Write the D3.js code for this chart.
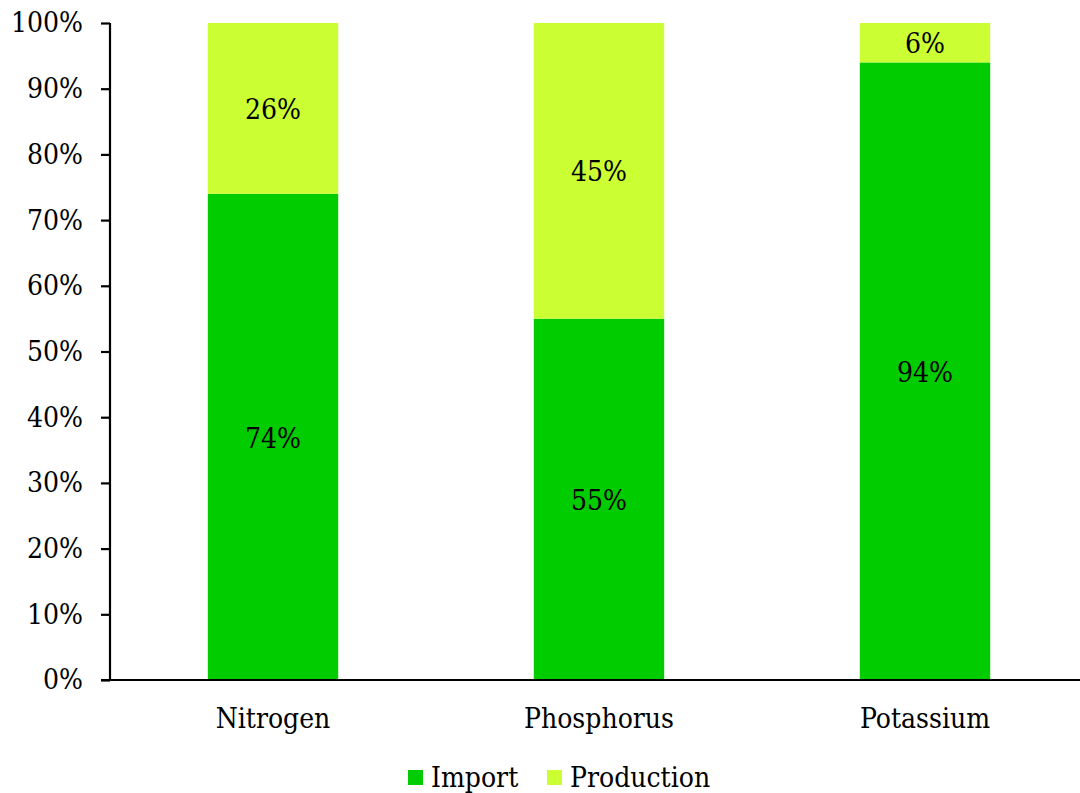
<!DOCTYPE html>
<html>
<head>
<meta charset="utf-8">
<script src="https://cdn.jsdelivr.net/npm/d3@7"></script>
<style>
  html, body { margin: 0; padding: 0; background: #fff; }
  svg { display: block; }
  svg text { font-family: "DejaVu Serif Condensed", "DejaVu Serif", serif; font-stretch: condensed; }
</style>
</head>
<body>
<svg id="chart" width="1080" height="793"></svg>
<script>
// Share of fertilizer supply by nutrient
const categories = ["Nitrogen", "Phosphorus", "Potassium"];
const seriesNames = ["Import", "Production"];
const importValues = [74, 55, 94];
const productionValues = [26, 45, 6];
const yTicks = [0, 10, 20, 30, 40, 50, 60, 70, 80, 90, 100];
const colors = { Import: "#00CC00", Production: "#CCFF33" };
const fontSize = "28px";

const svg = d3.select("#chart");
const plotLeft = 110, plotRight = 1088, plotTop = 23, plotBottom = 680;

const rows = categories.map((c, i) => ({ category: c, Import: importValues[i], Production: productionValues[i] }));
const stacked = d3.stack().keys(seriesNames)(rows);

const x = d3.scaleBand().domain(categories).range([plotLeft, plotRight]).paddingInner(0.6).paddingOuter(0.3);
const y = d3.scaleLinear().domain([0, 100]).range([plotBottom, plotTop]);

// Stacked bars
const layers = svg.append("g").selectAll("g").data(stacked).join("g")
  .attr("fill", d => colors[d.key]);
layers.selectAll("rect").data(d => d).join("rect")
  .attr("x", d => x(d.data.category))
  .attr("width", x.bandwidth())
  .attr("y", d => y(d[1]))
  .attr("height", d => y(d[0]) - y(d[1]));

// Value labels centred in each segment
const labels = svg.append("g").attr("fill", "#000").attr("text-anchor", "middle")
  .style("font-size", fontSize);
stacked.forEach(layer => {
  layer.forEach(d => {
    labels.append("text")
      .attr("x", x(d.data.category) + x.bandwidth() / 2)
      .attr("y", y((d[0] + d[1]) / 2))
      .attr("dy", "0.38em")
      .text(d[1] - d[0] + "%");
  });
});

// Y axis
const yAxis = svg.append("g").attr("transform", `translate(${plotLeft},0)`)
  .call(d3.axisLeft(y).tickValues(yTicks).tickFormat(d => d + "%").tickSize(9).tickPadding(18));
yAxis.select(".domain").attr("stroke", "#000").attr("stroke-width", 2.2).attr("d", `M0,${plotTop}V${plotBottom}`);
yAxis.selectAll(".tick line").attr("stroke", "#000").attr("stroke-width", 2.2);
yAxis.selectAll(".tick text").attr("fill", "#000").style("font-size", fontSize);

// X axis
const xAxis = svg.append("g").attr("transform", `translate(0,${plotBottom})`)
  .call(d3.axisBottom(x).tickSize(0).tickPadding(28));
xAxis.select(".domain").attr("stroke", "#000").attr("stroke-width", 2.2).attr("d", `M${plotLeft - 9},0H${plotRight}`);
xAxis.selectAll(".tick text").attr("fill", "#000").style("font-size", fontSize);

// Legend
const legendItems = [
  { key: "Import", x: 408 },
  { key: "Production", x: 547 }
];
const legend = svg.append("g");
legendItems.forEach(item => {
  legend.append("rect").attr("x", item.x).attr("y", 770).attr("width", 15).attr("height", 15)
    .attr("fill", colors[item.key]);
  legend.append("text").attr("x", item.x + 23).attr("y", 787)
    .style("font-size", fontSize).attr("fill", "#000").text(item.key);
});
</script>
</body>
</html>
